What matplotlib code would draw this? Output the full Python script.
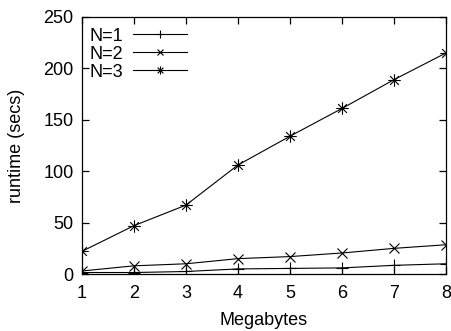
import numpy as np
import matplotlib
matplotlib.use("Agg")
import matplotlib.pyplot as plt
from matplotlib.path import Path

megabytes = [1, 2, 3, 4, 5, 6, 7, 8]
n1 = [1.5, 1.5, 2.5, 5, 5.5, 6, 8.5, 10]
n2 = [3, 8, 10, 15, 17, 20.5, 25, 28.5]
n3 = [22, 47, 67, 106, 134, 161, 189, 215]

plt.rcParams['font.family'] = ['Liberation Sans', 'DejaVu Sans']
plt.rcParams['font.size'] = 13

# gnuplot style star: + and x on top of each other
s = 0.7
star = Path([(-1, 0), (1, 0), (0, -1), (0, 1),
             (-s, -s), (s, s), (-s, s), (s, -s)],
            [Path.MOVETO, Path.LINETO] * 4)

fig = plt.figure(figsize=(4.52, 3.31), dpi=100)
ax = fig.add_axes([0.181, 0.172, 0.806, 0.777])

ax.plot(megabytes, n1, color='black', lw=0.8, marker='+', ms=9, mew=0.8, label='N=1')
ax.plot(megabytes, n2, color='black', lw=0.8, marker='x', ms=6.5, mew=0.8, label='N=2')
ax.plot(megabytes, n3, color='black', lw=0.8, marker=star, ms=9, mew=0.8, label='N=3')

ax.set_xlim(1, 8)
ax.set_ylim(0, 250)
ax.set_xticks(megabytes)
ax.set_yticks([0, 50, 100, 150, 200, 250])
ax.tick_params(direction='in', top=True, right=True, length=5, width=0.9)
ax.tick_params(axis='x', pad=8)
ax.tick_params(axis='y', pad=6)
for sp in ax.spines.values():
    sp.set_linewidth(0.9)

ax.set_xlabel('Megabytes', labelpad=7)
ax.set_ylabel('runtime (secs)', labelpad=13)

ax.legend(loc='upper left', frameon=False, markerfirst=False, handlelength=3.0,
          borderaxespad=0.2, borderpad=0.4, labelspacing=0.05, handletextpad=0.55,
          markerscale=0.65, bbox_to_anchor=(-0.009, 1.0))

fig.savefig('out.png', dpi=100)
